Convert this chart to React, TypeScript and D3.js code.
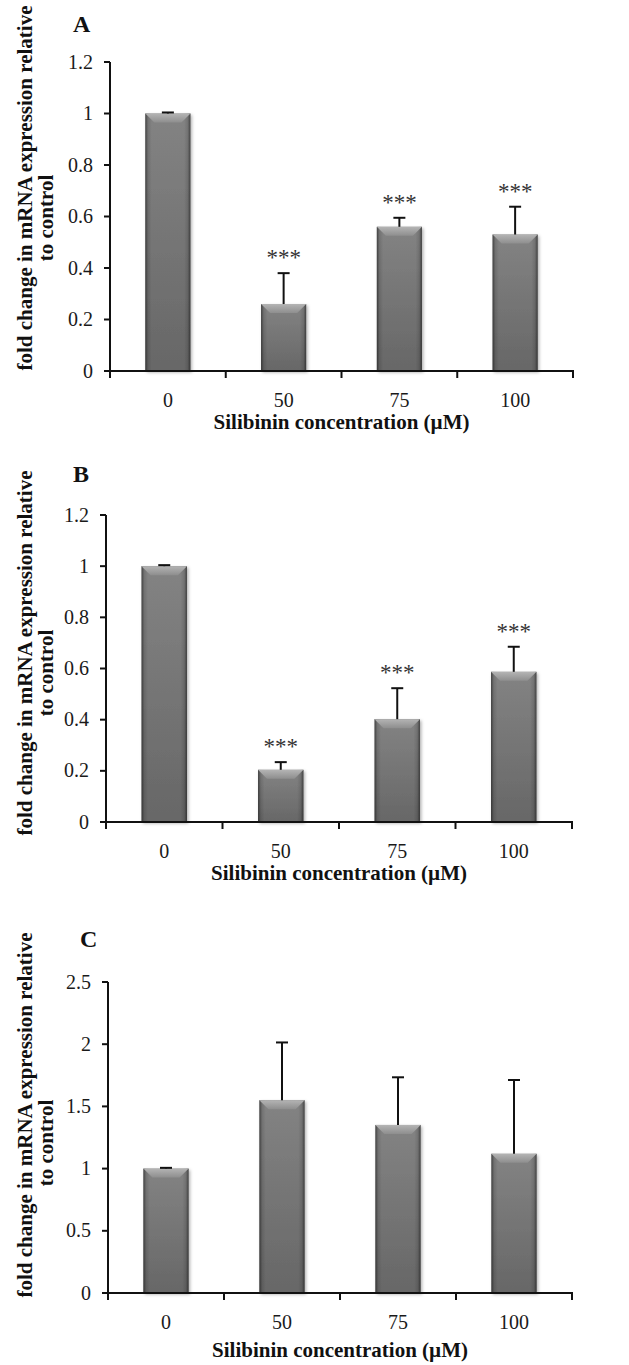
import React from 'react';
import * as d3 from 'd3';

const concentrations = ['0', '50', '75', '100'];

const meansA = [1.0, 0.26, 0.56, 0.53];
const errA = [0.004, 0.12, 0.035, 0.108];
const sigA = ['', '***', '***', '***'];

const meansB = [1.0, 0.204, 0.402, 0.587];
const errB = [0.004, 0.03, 0.121, 0.098];
const sigB = ['', '***', '***', '***'];

const meansC = [1.0, 1.55, 1.351, 1.119];
const errC = [0.006, 0.464, 0.383, 0.593];
const sigC = ['', '', '', ''];

const ticksAB = [0, 0.2, 0.4, 0.6, 0.8, 1, 1.2];
const ticksC = [0, 0.5, 1, 1.5, 2, 2.5];

const yLabel1 = 'fold change in mRNA expression relative';
const yLabel2 = 'to control';
const xTitle = 'Silibinin concentration (\u00B5M)';

const SERIF = '"Liberation Serif", "Times New Roman", serif';

type PanelProps = {
  id: string;
  letter: string;
  letterX: number;
  letterY: number;
  means: number[];
  errs: number[];
  sig: string[];
  ticks: number[];
  yMax: number;
  yTop: number;
  y0: number;
  x0: number;
  x1: number;
  l1c: number;
  l2c: number;
  titleOff: number;
};

function Panel(p: PanelProps) {
  const x = d3.scaleBand<string>().domain(concentrations).range([p.x0, p.x1]).padding(0);
  const y = d3.scaleLinear().domain([0, p.yMax]).range([p.y0, p.yTop]);
  const step = x.step();
  const bw = step * 0.39;
  const boundaries = concentrations.map((c) => x(c) as number).concat([p.x1]);
  return (
    <g>
      <text x={p.letterX} y={p.letterY} fontFamily={SERIF} fontWeight="bold" fontSize={24} fill="#111">
        {p.letter}
      </text>
      <text
        transform={`translate(32,${p.l1c}) rotate(-90)`}
        textAnchor="middle"
        fontFamily={SERIF}
        fontWeight="bold"
        fontSize={21}
        fill="#111"
      >
        {yLabel1}
      </text>
      <text
        transform={`translate(53,${p.l2c}) rotate(-90)`}
        textAnchor="middle"
        fontFamily={SERIF}
        fontWeight="bold"
        fontSize={21}
        fill="#111"
      >
        {yLabel2}
      </text>
      {p.means.map((m, i) => {
        const cx = (x(concentrations[i]) as number) + step / 2;
        const left = cx - bw / 2;
        const top = y(m);
        const h = p.y0 - top;
        const bev = Math.min(9, h / 2);
        return (
          <g key={i}>
            <rect x={left} y={top} width={bw} height={h} fill={`url(#body-${p.id})`} filter="url(#shadow)" />
            <rect x={left} y={top} width={bw} height={h} fill="url(#edge)" />
            <polygon
              points={`${left},${top} ${left + bw},${top} ${left + bw - bev},${top + bev} ${left + bev},${top + bev}`}
              fill="url(#bevel)"
            />
          </g>
        );
      })}
      {p.means.map((m, i) => {
        const cx = (x(concentrations[i]) as number) + step / 2;
        const yt = y(m + p.errs[i]);
        return (
          <g key={'e' + i} stroke="#111" strokeWidth={2}>
            <line x1={cx} x2={cx} y1={y(m)} y2={yt} />
            <line x1={cx - 6} x2={cx + 6} y1={yt} y2={yt} />
          </g>
        );
      })}
      {p.sig.map((s, i) => {
        if (!s) return null;
        const cx = (x(concentrations[i]) as number) + step / 2;
        const yt = y(p.means[i] + p.errs[i]);
        return (
          <text key={'s' + i} x={cx} y={yt - 8} textAnchor="middle" fontFamily={SERIF} fontSize={23} fill="#333">
            {s}
          </text>
        );
      })}
      <line x1={p.x0} x2={p.x0} y1={p.yTop} y2={p.y0 + 6} stroke="#111" strokeWidth={2} />
      {p.ticks.map((t) => (
        <g key={'yt' + t}>
          <line x1={p.x0 - 6} x2={p.x0} y1={y(t)} y2={y(t)} stroke="#111" strokeWidth={2} />
          <text x={p.x0 - 17} y={y(t) + 6.5} textAnchor="end" fontFamily={SERIF} fontSize={20} fill="#1a1a1a">
            {String(t)}
          </text>
        </g>
      ))}
      <line x1={p.x0} x2={p.x1 + 1} y1={p.y0} y2={p.y0} stroke="#111" strokeWidth={2} />
      {boundaries.map((b, i) => (
        <line key={'xt' + i} x1={b} x2={b} y1={p.y0} y2={p.y0 + 7} stroke="#111" strokeWidth={2} />
      ))}
      {concentrations.map((c) => (
        <text
          key={'xl' + c}
          x={(x(c) as number) + step / 2}
          y={p.y0 + 36}
          textAnchor="middle"
          fontFamily={SERIF}
          fontSize={20}
          fill="#1a1a1a"
        >
          {c}
        </text>
      ))}
      <text
        x={(p.x0 + p.x1) / 2}
        y={p.y0 + p.titleOff}
        textAnchor="middle"
        fontFamily={SERIF}
        fontWeight="bold"
        fontSize={21}
        fill="#111"
      >
        {xTitle}
      </text>
    </g>
  );
}

export default function App() {
  const panels: PanelProps[] = [
    {
      id: 'a', letter: 'A', letterX: 73, letterY: 32, means: meansA, errs: errA, sig: sigA,
      ticks: ticksAB, yMax: 1.2, yTop: 62, y0: 371, x0: 110, x1: 573, l1c: 188, l2c: 218, titleOff: 58,
    },
    {
      id: 'b', letter: 'B', letterX: 73, letterY: 482, means: meansB, errs: errB, sig: sigB,
      ticks: ticksAB, yMax: 1.2, yTop: 515, y0: 822, x0: 106, x1: 572, l1c: 653, l2c: 673, titleOff: 58,
    },
    {
      id: 'c', letter: 'C', letterX: 80, letterY: 947, means: meansC, errs: errC, sig: sigC,
      ticks: ticksC, yMax: 2.5, yTop: 982, y0: 1293, x0: 108, x1: 572, l1c: 1115, l2c: 1143, titleOff: 64,
    },
  ];
  return (
    <svg
      width={629}
      height={1365}
      style={{ position: 'absolute', left: 0, top: 0, background: '#fff' }}
      xmlns="http://www.w3.org/2000/svg"
    >
      <defs>
        {panels.map((p) => (
          <linearGradient key={p.id} id={`body-${p.id}`} x1="0" y1="0" x2="0" y2="1">
            <stop offset="0%" stopColor="#838383" />
            <stop offset="100%" stopColor="#676767" />
          </linearGradient>
        ))}
        <linearGradient id="edge" x1="0" y1="0" x2="1" y2="0">
          <stop offset="0%" stopColor="#000" stopOpacity={0.5} />
          <stop offset="6%" stopColor="#000" stopOpacity={0.12} />
          <stop offset="14%" stopColor="#000" stopOpacity={0} />
          <stop offset="86%" stopColor="#000" stopOpacity={0} />
          <stop offset="94%" stopColor="#000" stopOpacity={0.12} />
          <stop offset="100%" stopColor="#000" stopOpacity={0.5} />
        </linearGradient>
        <linearGradient id="bevel" x1="0" y1="0" x2="0" y2="1">
          <stop offset="0%" stopColor="#b4b4b4" />
          <stop offset="100%" stopColor="#8e8e8e" />
        </linearGradient>
        <filter id="shadow" x="-20%" y="-5%" width="140%" height="115%">
          <feDropShadow dx={1.5} dy={1.5} stdDeviation={1.5} floodColor="#000" floodOpacity={0.3} />
        </filter>
      </defs>
      <rect x={0} y={0} width={629} height={1365} fill="#fff" />
      {panels.map((p) => (
        <Panel key={p.id} {...p} />
      ))}
    </svg>
  );
}
